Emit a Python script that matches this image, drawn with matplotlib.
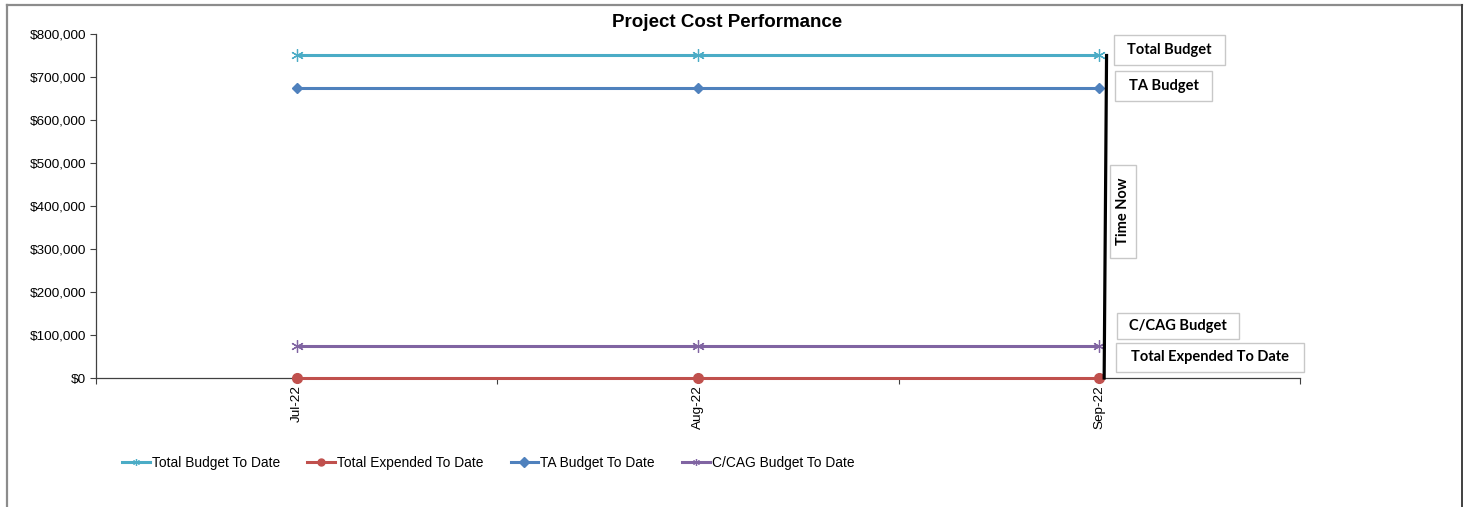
import matplotlib
matplotlib.use('Agg')
import matplotlib.pyplot as plt
from matplotlib.patches import Rectangle
from matplotlib.lines import Line2D

plt.rcParams['font.family'] = ['Liberation Sans', 'DejaVu Sans']

# data
months = ['Jul-22', 'Aug-22', 'Sep-22']
total_budget = [750000, 750000, 750000]
total_expended = [0, 0, 0]
ta_budget = [675000, 675000, 675000]
cag_budget = [75000, 75000, 75000]
y_ticks = [0, 100000, 200000, 300000, 400000, 500000, 600000, 700000, 800000]
time_now_x = [2.018, 2.012]
time_now_y = [750000, 0]

W, H = 1469, 507
fig = plt.figure(figsize=(W / 100, H / 100), dpi=100)

# outer chart frame
fig.add_artist(Line2D([7 / W, 7 / W], [0, 1 - 4.5 / H], color='#8c8c8c', lw=1.6))
fig.add_artist(Line2D([7 / W, 1461.5 / W], [1 - 4.5 / H, 1 - 4.5 / H], color='#8c8c8c', lw=1.6))
fig.add_artist(Line2D([1461.5 / W, 1461.5 / W], [0, 1 - 4.5 / H], color='#404040', lw=1.4))

ax = fig.add_axes([96 / W, 1 - 378 / H, (1300 - 96) / W, (378 - 34) / H])
x = list(range(len(months)))

ax.plot(x, total_budget, color='#4BACC6', lw=2.2, marker=(6, 2, 0), ms=9, mew=0.9,
        label='Total Budget To Date', zorder=3)
ax.plot(x, total_expended, color='#C0504D', lw=2.2, marker='o', ms=7,
        label='Total Expended To Date', zorder=3, clip_on=False)
ax.plot(x, ta_budget, color='#4F81BD', lw=2.2, marker='D', ms=5.5,
        label='TA Budget To Date', zorder=3)
ax.plot(x, cag_budget, color='#8064A2', lw=2.2, marker=(6, 2, 0), ms=9, mew=0.9,
        label='C/CAG Budget To Date', zorder=3)
ax.plot(time_now_x, time_now_y, color='black', lw=2.3, zorder=4, clip_on=False)

ax.set_xlim(-0.5, 2.5)
ax.set_ylim(0, 800000)
ax.set_yticks(y_ticks)
ax.set_yticklabels([f'${v:,.0f}' for v in y_ticks], fontsize=9.7)
ax.set_xticks(x)
ax.set_xticklabels(months, rotation=90, fontsize=9.7)
ax.set_xticks([-0.5, 0.5, 1.5, 2.5], minor=True)
ax.tick_params(axis='x', which='major', length=0, pad=5)
ax.tick_params(axis='x', which='minor', length=4, width=0.8, color='#404040')
ax.tick_params(axis='y', length=4, width=0.8, color='#404040', pad=3)
for s in ['top', 'right']:
    ax.spines[s].set_visible(False)
for s in ['left', 'bottom']:
    ax.spines[s].set_color('#404040')
    ax.spines[s].set_linewidth(0.9)

fig.text(727 / W, 1 - 22.5 / H, 'Project Cost Performance', ha='center', va='center',
         fontsize=13.5, fontweight='bold')

leg = fig.legend(loc='center left', bbox_to_anchor=(122 / W, 1 - 463 / H), ncol=4,
                 frameon=False, fontsize=9.9, handlelength=2.0, handletextpad=0.15,
                 columnspacing=2.0, borderpad=0, borderaxespad=0)
for h in leg.legend_handles:
    h.set_markersize(5)

# callout labels (pixel boxes: x0, y0, x1, y1)
callouts = [
    ('Total Budget', (1114, 35, 1225, 65), 0),
    ('TA Budget', (1115, 71, 1212, 101), 0),
    ('Time Now', (1110, 165, 1136, 258), 90),
    ('C/CAG Budget', (1117, 313, 1239, 339), 0),
    ('Total Expended To Date', (1116, 343, 1304, 372), 0),
]
for txt, (x0, y0, x1, y1), rot in callouts:
    fig.add_artist(Rectangle((x0 / W, 1 - y1 / H), (x1 - x0) / W, (y1 - y0) / H,
                             transform=fig.transFigure, facecolor='white',
                             edgecolor='#c8c8c8', lw=1.0))
    fig.text((x0 + x1) / 2 / W, 1 - (y0 + y1) / 2 / H, txt, ha='center', va='center',
             rotation=rot, fontsize=10.5, fontweight='bold', family=['Lato', 'DejaVu Sans'])

fig.savefig('out.png', dpi=100)
